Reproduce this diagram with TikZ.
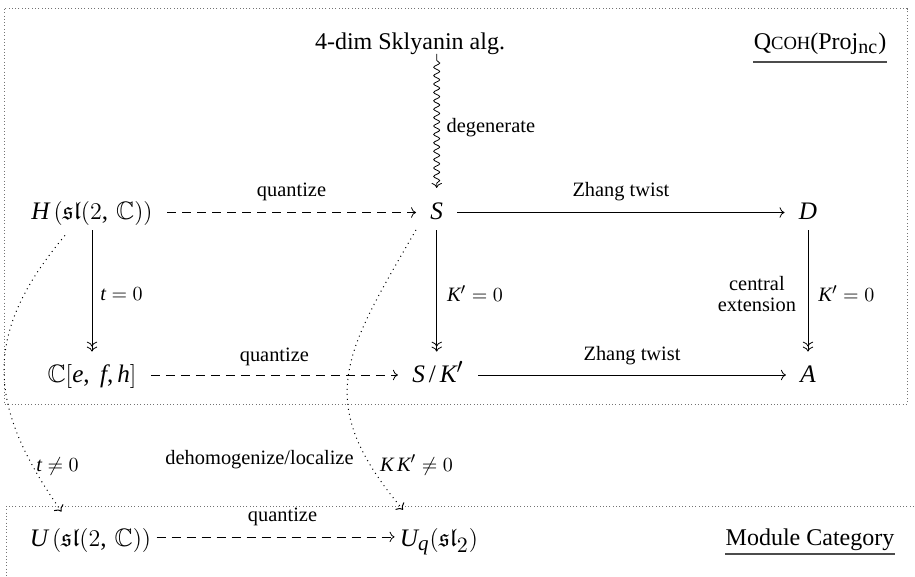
\documentclass[tikz,border=0pt]{standalone}
\usepackage{amsmath,amssymb}
\usepackage{fontspec}
\setmainfont{Liberation Serif}
\usepackage[italic]{mathastext}
\usetikzlibrary{arrows.meta,decorations.pathmorphing}
\begin{document}
\begin{tikzpicture}[x=0.5pt,y=0.5pt,
  >={Computer Modern Rightarrow},
  cell/.style={anchor=base, text height=10pt, text depth=3pt, inner xsep=7pt, inner ysep=2pt, font=\fontsize{12.6}{14}\selectfont},
  cellb/.style={cell, inner xsep=2.5pt},
  title/.style={anchor=base, inner sep=0pt, font=\fontsize{12}{14}\selectfont},
  lab/.style={font=\fontsize{10.2}{11}\selectfont, inner sep=2pt},
  frame/.style={draw=black!55, line width=0.5pt, dash pattern=on 0.5pt off 1.15pt},
  dashar/.style={->, dash pattern=on 4.5pt off 3pt},
  plainar/.style={->},
  surj/.style={->>, shorten <=0.3pt, shorten >=3pt},
  dotar/.style={->, dotted, line width=0.5pt},
  squig/.style={->, decorate, decoration={snake, amplitude=1.5pt, segment length=4.2pt, post length=4pt}, shorten <=3.3pt, shorten >=3.6pt},
  uline/.style={line width=1pt, draw=black!70}
]
\useasboundingbox (0,0) rectangle (915,-577);
\begin{scope}
  \clip (0,0) rectangle (915,-577);
  \draw[frame] (4,-9) rectangle (907,-404);
  \draw[frame] (6,-506) rectangle (940,-620);
\end{scope}

% nodes
\node[cell, font=\fontsize{12}{14}\selectfont] (sky) at (410,-50) {4-dim Sklyanin alg.};
\node[title] (qc) at (820,-50) {Q{\fontsize{9.3}{9}\selectfont COH}(Proj$_{\mathrm{nc}}$)};
\node[cell] (H) at (92,-219.5) {$H\,(\mathfrak{sl}(2,\,\mathbb{C}))$};
\node[cell] (S) at (436.7,-219.5) {$S$};
\node[cell] (D) at (808,-219.5) {$D$};
\node[cell] (C) at (92,-382) {$\mathbb{C}[e,\ f,h]$};
\node[cell] (SK) at (438,-382) {$S\mkern3mu/\mkern3mu K'$};
\node[cell] (A) at (808,-382) {$A$};
\node[cellb] (U) at (90.5,-546.7) {$U\,(\mathfrak{sl}(2,\,\mathbb{C}))$};
\node[cellb] (Uq) at (439,-546.7) {$U_q(\mathfrak{sl}_2)$};
\node[title] (mod) at (810,-545) {Module Category};

% underlines
\draw[uline] ([yshift=-6pt]qc.base west) -- ([yshift=-6pt]qc.base east);
\draw[uline] ([yshift=-4.5pt]mod.base west) -- ([yshift=-4.5pt]mod.base east);

% arrows
\draw[squig] (sky.south -| S.north) -- (S.north)
  node[lab, midway, right=2.8pt] (ldeg) {degenerate};
\draw[dashar] (H) -- (S) node[lab, midway, above=3.8pt] (lq1) {quantize};
\draw[plainar] (S) -- (D) node[lab, midway, above=3.5pt] (lz1) {Zhang twist};
\draw[surj] (H.south) -- (C.north) node[lab, midway, right=2pt] (lt0) {$t=0$};
\draw[surj] (S.south) -- (S.south |- SK.north) node[lab, midway, right=3pt] (lk1) {$K'=0$};
\draw[surj] (D.south) -- (A.north)
  node[lab, midway, right=3pt] (lk2) {$K'=0$}
  node[lab, midway, left=3.8pt, align=center, font=\fontsize{10.2}{10.5}\selectfont] (lce) {central\\extension};
\draw[dashar] (C) -- (SK) node[lab, midway, above=2.6pt] (lq2) {quantize};
\draw[plainar] (SK) -- (A) node[lab, midway, above=2.6pt] (lz2) {Zhang twist};
\draw[dashar] ([yshift=1.4pt]U.east) -- ([yshift=1.4pt]Uq.west)
  node[lab, midway, above=3.5pt, xshift=3.5pt] (lq3) {quantize};

% dotted curved arrows
\draw[dotar] ([shift={(-27,-5.5)}]H.south) to[out=230, in=125, looseness=1.2] ([shift={(-29,10.7)}]U.north);
\draw[dotar] (S.south west) to[out=240, in=130, looseness=1.3] ([shift={(-36,12.5)}]Uq.north);

% curve labels
\node[lab, anchor=base] (ltn) at (57.5,-471) {$t\neq 0$};
\node[lab, anchor=base] (ldh) at (259.5,-464) {dehomogenize/localize};
\node[lab, anchor=base] (lkk) at (416.5,-471) {$K\,K'\neq 0$};
\end{tikzpicture}
\end{document}
